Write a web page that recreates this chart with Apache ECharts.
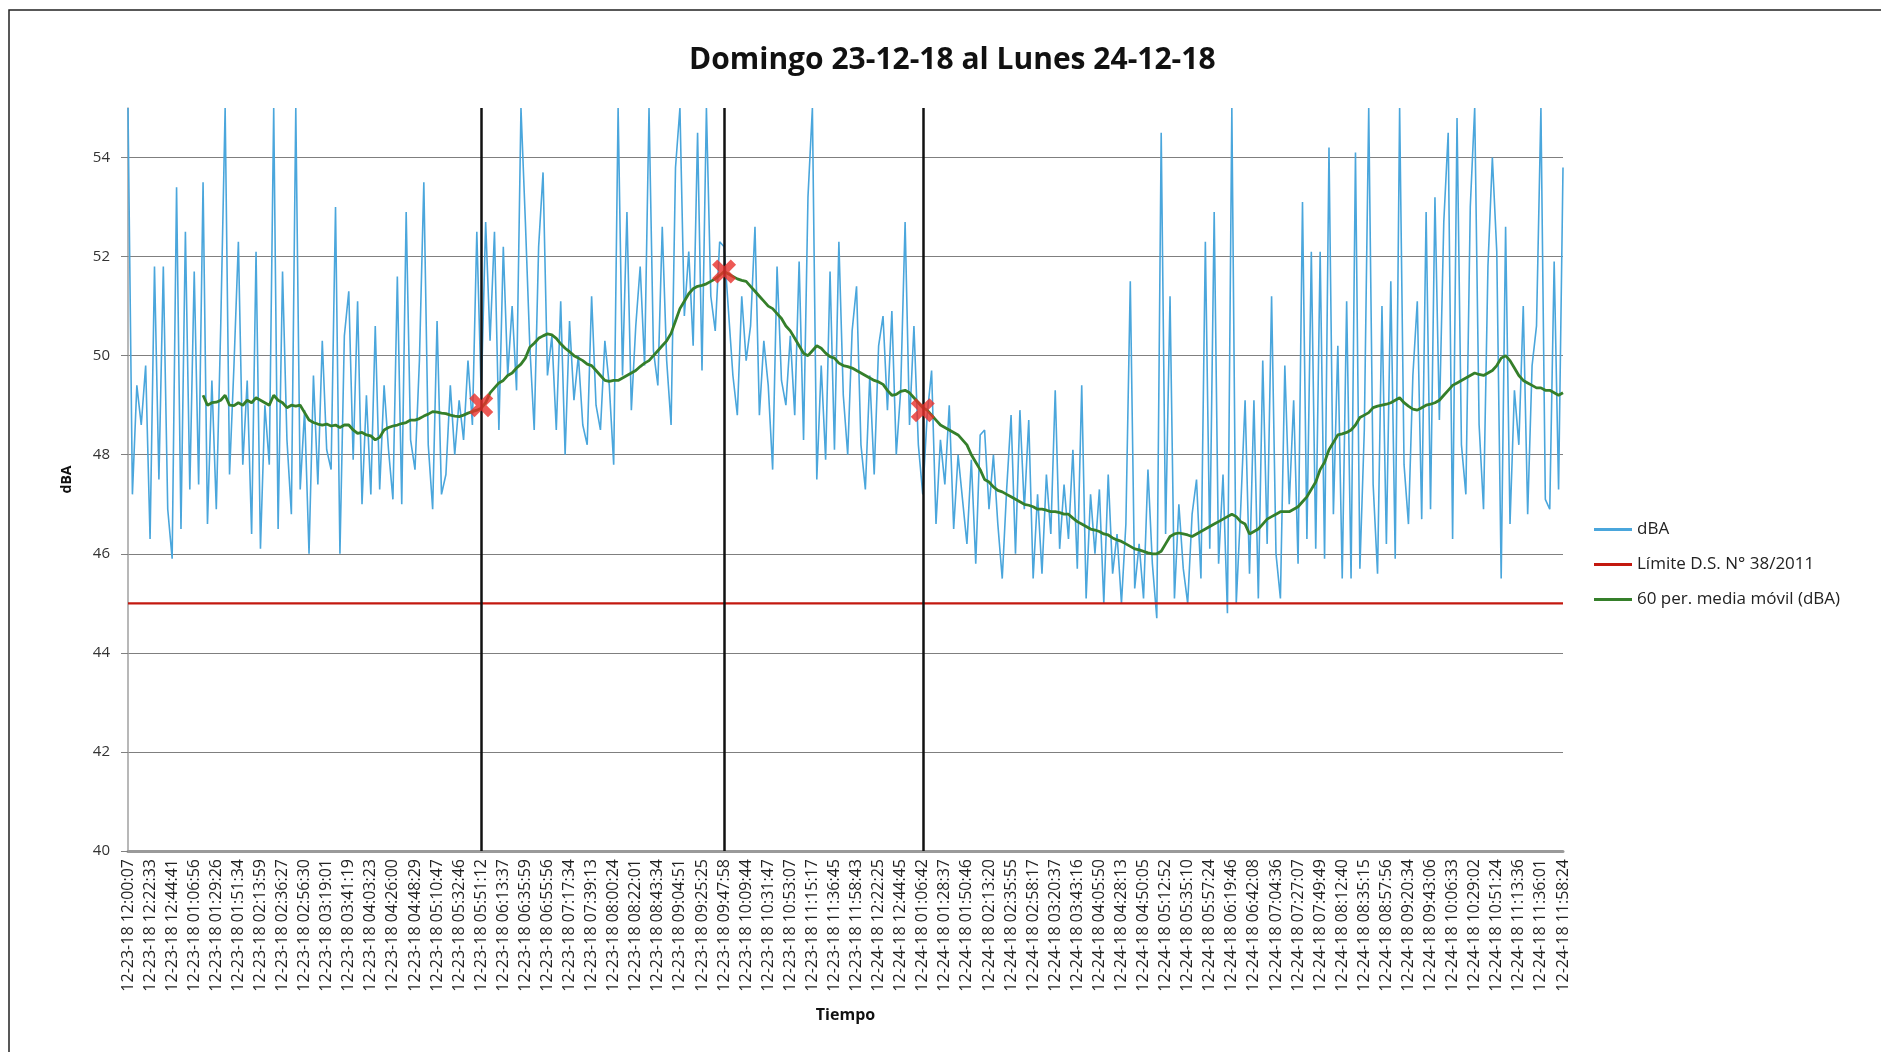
<!DOCTYPE html>
<html>
<head>
<meta charset="utf-8">
<script src="https://cdn.jsdelivr.net/npm/echarts@6/dist/echarts.min.js"></script>
<style>
html,body{margin:0;padding:0;background:#fff;}
#chart{width:1881px;height:1052px;}
</style>
</head>
<body>
<div id="chart"></div>
<script>
const chartTitle = 'Domingo 23-12-18 al Lunes 24-12-18';
const tickLabels = [
'12-23-18 12:00:07','12-23-18 12:22:33','12-23-18 12:44:41','12-23-18 01:06:56','12-23-18 01:29:26','12-23-18 01:51:34',
'12-23-18 02:13:59','12-23-18 02:36:27','12-23-18 02:56:30','12-23-18 03:19:01','12-23-18 03:41:19','12-23-18 04:03:23',
'12-23-18 04:26:00','12-23-18 04:48:29','12-23-18 05:10:47','12-23-18 05:32:46','12-23-18 05:51:12','12-23-18 06:13:37',
'12-23-18 06:35:59','12-23-18 06:55:56','12-23-18 07:17:34','12-23-18 07:39:13','12-23-18 08:00:24','12-23-18 08:22:01',
'12-23-18 08:43:34','12-23-18 09:04:51','12-23-18 09:25:25','12-23-18 09:47:58','12-23-18 10:09:44','12-23-18 10:31:47',
'12-23-18 10:53:07','12-23-18 11:15:17','12-23-18 11:36:45','12-23-18 11:58:43','12-24-18 12:22:25','12-24-18 12:44:45',
'12-24-18 01:06:42','12-24-18 01:28:37','12-24-18 01:50:46','12-24-18 02:13:20','12-24-18 02:35:55','12-24-18 02:58:17',
'12-24-18 03:20:37','12-24-18 03:43:16','12-24-18 04:05:50','12-24-18 04:28:13','12-24-18 04:50:05','12-24-18 05:12:52',
'12-24-18 05:35:10','12-24-18 05:57:24','12-24-18 06:19:46','12-24-18 06:42:08','12-24-18 07:04:36','12-24-18 07:27:07',
'12-24-18 07:49:49','12-24-18 08:12:40','12-24-18 08:35:15','12-24-18 08:57:56','12-24-18 09:20:34','12-24-18 09:43:06',
'12-24-18 10:06:33','12-24-18 10:29:02','12-24-18 10:51:24','12-24-18 11:13:36','12-24-18 11:36:01','12-24-18 11:58:24'
];
const pointsPerTick = 5;

const dbaValues = [
55.0,47.2,49.4,48.6,49.8, 46.3,51.8,47.5,51.8,46.9, 45.9,53.4,46.5,52.5,47.3, 51.7,47.4,53.5,46.6,49.5,
46.9,50.6,55.0,47.6,49.8, 52.3,47.8,49.5,46.4,52.1, 46.1,49.0,47.8,55.0,46.5, 51.7,48.3,46.8,55.0,47.3,
48.9,46.0,49.6,47.4,50.3, 48.1,47.7,53.0,46.0,50.4, 51.3,47.9,51.1,47.0,49.2, 47.2,50.6,47.3,49.4,48.1,
47.1,51.6,47.0,52.9,48.3, 47.7,49.9,53.5,48.2,46.9, 50.7,47.2,47.6,49.4,48.0, 49.1,48.3,49.9,48.6,52.5,
49.2,52.7,50.3,52.5,48.5, 52.2,49.6,51.0,49.3,55.0, 52.7,50.2,48.5,52.2,53.7, 49.6,50.4,48.5,51.1,48.0,
50.7,49.1,50.0,48.6,48.2, 51.2,49.0,48.5,50.3,49.4, 47.8,55.0,49.6,52.9,48.9, 50.6,51.8,49.8,55.0,50.1,
49.4,52.6,49.9,48.6,53.8, 55.0,50.8,52.1,50.2,54.5, 49.7,55.0,51.2,50.5,52.3, 52.2,50.9,49.6,48.8,51.2,
49.9,50.6,52.6,48.8,50.3, 49.4,47.7,51.8,49.5,49.0, 50.4,48.8,51.9,48.3,53.2, 55.0,47.5,49.8,47.9,51.7,
48.1,52.3,49.2,48.0,50.5, 51.4,48.2,47.3,49.6,47.6, 50.2,50.8,48.9,50.9,48.0, 49.3,52.7,48.6,50.6,48.2,
47.2,48.8,49.7,46.6,48.3, 47.4,49.0,46.5,48.0,47.1, 46.2,47.9,45.8,48.4,48.5, 46.9,48.0,46.6,45.5,47.3,
48.8,46.0,48.9,46.9,48.7, 45.5,47.2,45.6,47.6,46.4, 49.3,46.1,47.4,46.3,48.1, 45.7,49.4,45.1,47.2,46.0,
47.3,45.0,47.6,45.6,46.4, 45.0,46.6,51.5,45.3,46.2, 45.1,47.7,45.8,44.7,54.5, 46.4,51.2,45.1,47.0,45.7,
45.0,46.8,47.5,45.5,52.3, 46.1,52.9,45.8,47.6,44.8, 55.0,45.0,46.9,49.1,45.6, 49.1,45.1,49.9,46.2,51.2,
46.0,45.1,49.8,47.0,49.1, 45.8,53.1,46.3,52.1,46.1, 52.1,45.9,54.2,46.8,50.2, 45.5,51.1,45.5,54.1,45.7,
48.5,55.0,47.4,45.6,51.0, 46.2,51.5,45.9,55.0,47.8, 46.6,49.6,51.1,46.7,52.9, 46.9,53.2,48.7,52.7,54.5,
46.3,54.8,48.2,47.2,53.0, 55.0,48.6,46.9,51.8,54.0, 52.1,45.5,52.6,46.6,49.3, 48.2,51.0,46.8,49.8,50.6,
55.0,47.1,46.9,51.9,47.3, 53.8
];

const movingAvg = [
null,null,null,null,null, null,null,null,null,null, null,null,null,null,null, null,null,49.2,49.0,49.05,
49.06,49.1,49.2,49.0,48.99, 49.05,49.0,49.1,49.05,49.15, 49.1,49.05,49.0,49.2,49.1, 49.05,48.95,49.0,48.98,49.0,
48.85,48.7,48.65,48.62,48.6, 48.62,48.58,48.6,48.55,48.6, 48.6,48.5,48.43,48.45,48.4, 48.38,48.3,48.35,48.5,48.55,
48.58,48.6,48.63,48.65,48.7, 48.7,48.73,48.78,48.82,48.87, 48.86,48.84,48.83,48.8,48.78, 48.77,48.8,48.84,48.87,48.9,
48.94,49.05,49.25,49.35,49.45, 49.5,49.6,49.65,49.75,49.83, 49.95,50.17,50.25,50.35,50.4, 50.44,50.42,50.35,50.24,50.15,
50.08,50.0,49.95,49.9,49.83, 49.8,49.7,49.6,49.5,49.48, 49.5,49.5,49.55,49.6,49.65, 49.7,49.78,49.85,49.9,50.0,
50.1,50.2,50.3,50.45,50.7, 50.95,51.1,51.25,51.35,51.4, 51.42,51.45,51.5,51.55,51.62, 51.7,51.65,51.6,51.55,51.52,
51.5,51.4,51.3,51.2,51.1, 51.0,50.95,50.85,50.75,50.6, 50.5,50.35,50.2,50.05,50.0, 50.1,50.2,50.15,50.05,49.98,
49.95,49.85,49.8,49.78,49.75, 49.7,49.65,49.6,49.55,49.5, 49.47,49.42,49.3,49.2,49.22, 49.28,49.3,49.25,49.15,49.05,
48.95,48.9,48.8,48.7,48.6, 48.55,48.5,48.45,48.4,48.3, 48.2,48.0,47.85,47.7,47.5, 47.45,47.35,47.28,47.25,47.2,
47.15,47.1,47.05,47.0,46.98, 46.95,46.9,46.9,46.88,46.85, 46.85,46.83,46.8,46.8,46.72, 46.65,46.6,46.55,46.5,46.48,
46.45,46.4,46.38,46.32,46.28, 46.25,46.2,46.15,46.1,46.08, 46.05,46.02,46.0,46.0,46.05, 46.2,46.35,46.4,46.42,46.4,
46.38,46.35,46.4,46.45,46.5, 46.55,46.6,46.65,46.7,46.75, 46.8,46.75,46.65,46.6,46.4, 46.45,46.5,46.6,46.7,46.75,
46.8,46.85,46.85,46.85,46.9, 46.95,47.05,47.15,47.3,47.45, 47.7,47.85,48.1,48.25,48.4, 48.42,48.45,48.5,48.6,48.75,
48.8,48.85,48.95,48.98,49.0, 49.02,49.05,49.1,49.15,49.05, 48.98,48.92,48.9,48.95,49.0, 49.02,49.05,49.1,49.2,49.3,
49.4,49.45,49.5,49.55,49.6, 49.65,49.62,49.6,49.65,49.7, 49.8,49.95,50.0,49.9,49.75, 49.6,49.5,49.45,49.4,49.35,
49.35,49.3,49.3,49.25,49.2, 49.25
];

const limitValue = 45;
const markerTickIdx = [16, 27, 36];
const markerValues = [49.0, 51.7, 48.9];

const seriesNames = ['dBA', 'Límite D.S. N° 38/2011', '60 per. media móvil (dBA)'];

// build category axis from tick labels
const categories = [];
tickLabels.forEach(function (t, i) {
  categories.push(t);
  if (i < tickLabels.length - 1) {
    for (let k = 1; k < pointsPerTick; k++) categories.push(t + ' +' + k);
  }
});
const lastIdx = categories.length - 1;
const markerIdx = markerTickIdx.map(function (i) { return i * pointsPerTick; });

const xPath = 'path://M0,2.2 L2.2,0 L5,2.8 L7.8,0 L10,2.2 L7.2,5 L10,7.8 L7.8,10 L5,7.2 L2.2,10 L0,7.8 L2.8,5 Z';

const chart = echarts.init(document.getElementById('chart'), null, {renderer: 'canvas'});
chart.setOption({
  animation: false,
  backgroundColor: '#ffffff',
  title: {
    text: chartTitle,
    left: 684,
    top: 40,
    textStyle: {fontFamily: 'Open Sans', fontWeight: 'bold', fontSize: 30, color: '#111'}
  },
  graphic: [{
    type: 'rect',
    shape: {x: 9, y: 10, width: 1900, height: 1100},
    style: {fill: 'none', stroke: '#222', lineWidth: 1.5},
    silent: true
  }],
  legend: {
    data: seriesNames,
    orient: 'vertical',
    left: 1589,
    top: 516,
    icon: 'rect',
    itemWidth: 38,
    itemHeight: 3,
    itemGap: 18,
    textStyle: {fontFamily: 'Open Sans', fontSize: 17, color: '#222'}
  },
  grid: {left: 128, right: 318, top: 108, bottom: 201, containLabel: false, outerBoundsMode: 'none'},
  xAxis: {
    type: 'category',
    data: categories,
    boundaryGap: false,
    axisLine: {lineStyle: {color: '#9a9a9a', width: 3}},
    axisTick: {show: false},
    axisLabel: {interval: pointsPerTick - 1, rotate: 90, fontFamily: 'Open Sans', fontSize: 16, color: '#222', margin: 8},
    splitLine: {show: false},
    name: 'Tiempo',
    nameLocation: 'middle',
    nameGap: 156,
    nameTextStyle: {fontFamily: 'Open Sans', fontWeight: 'bold', fontSize: 16, color: '#111'}
  },
  yAxis: {
    type: 'value',
    min: 40,
    max: 55,
    interval: 2,
    axisLine: {show: true, lineStyle: {color: '#a0a0a0', width: 1.5}},
    axisTick: {show: true, length: 7, lineStyle: {color: '#808080'}},
    axisLabel: {showMaxLabel: false, fontFamily: 'Open Sans', fontSize: 15, color: '#333', margin: 18},
    splitLine: {show: true, showMaxLine: false, lineStyle: {color: '#7f7f7f', width: 1.2}},
    name: 'dBA',
    nameLocation: 'middle',
    nameGap: 54,
    nameRotate: 90,
    nameTextStyle: {fontFamily: 'Open Sans', fontWeight: 'bold', fontSize: 14, color: '#111'}
  },
  series: [
    {
      name: seriesNames[0],
      type: 'line',
      data: dbaValues,
      symbol: 'none',
      lineStyle: {color: '#4aa6dc', width: 1.6},
      itemStyle: {color: '#4aa6dc'},
      z: 2
    },
    {
      name: seriesNames[1],
      type: 'line',
      data: [[0, limitValue], [lastIdx, limitValue]],
      symbol: 'none',
      lineStyle: {color: '#c3180f', width: 2.2},
      itemStyle: {color: '#c3180f'},
      z: 2
    },
    {
      name: 'vlines',
      type: 'line',
      data: [],
      symbol: 'none',
      z: 3,
      markLine: {
        silent: true,
        symbol: ['none', 'none'],
        label: {show: false},
        lineStyle: {color: '#111', width: 2.5, type: 'solid'},
        data: markerIdx.map(function (i) { return {xAxis: i}; })
      }
    },
    {
      name: seriesNames[2],
      type: 'line',
      data: movingAvg,
      symbol: 'none',
      connectNulls: false,
      lineStyle: {color: '#357f2a', width: 2.8},
      itemStyle: {color: '#357f2a'},
      z: 4
    },
    {
      name: 'marcas',
      type: 'scatter',
      data: markerIdx.map(function (i, k) { return [i, markerValues[k]]; }),
      symbol: xPath,
      symbolSize: 24,
      itemStyle: {color: '#e8302a'},
      z: 5
    }
  ]
});
</script>
</body>
</html>
